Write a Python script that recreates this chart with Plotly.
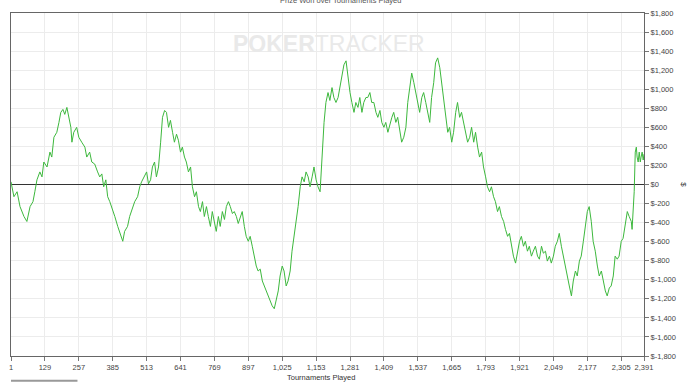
import plotly.graph_objects as go

tournaments = [1, 12, 24, 35, 50, 61, 73, 84, 91, 99, 110, 118, 125, 137, 148, 155, 163, 174, 182, 189,
    197, 204, 212, 219, 227, 231, 238, 249, 257, 268, 280, 287, 298, 306, 317, 328, 336, 344, 351, 359,
    366, 374, 381, 393, 404, 415, 423, 430, 441, 449, 456, 468, 479, 487, 494, 502, 513, 520, 528, 535,
    543, 550, 558, 566, 573, 581, 588, 596, 603, 611, 618, 626, 633, 641, 648, 656, 663, 671, 679, 686,
    694, 701, 709, 716, 724, 731, 739, 746, 754, 761, 769, 776, 784, 791, 799, 807, 814, 822, 829, 837,
    844, 852, 859, 867, 874, 882, 889, 897, 904, 912, 919, 927, 934, 942, 950, 957, 965, 972, 980, 987,
    995, 1002, 1010, 1017, 1025, 1032, 1040, 1047, 1055, 1062, 1070, 1077, 1085, 1093, 1100, 1108, 1115, 1123, 1130, 1138,
    1145, 1153, 1160, 1168, 1175, 1183, 1190, 1198, 1205, 1213, 1220, 1228, 1236, 1243, 1251, 1258, 1266, 1273, 1281, 1288,
    1296, 1303, 1311, 1318, 1326, 1333, 1341, 1348, 1356, 1363, 1371, 1379, 1386, 1394, 1401, 1409, 1416, 1424, 1431, 1439,
    1446, 1454, 1461, 1469, 1476, 1484, 1492, 1499, 1507, 1514, 1522, 1529, 1537, 1544, 1552, 1559, 1567, 1574, 1582, 1589,
    1597, 1604, 1612, 1620, 1627, 1635, 1642, 1650, 1657, 1665, 1672, 1680, 1687, 1695, 1702, 1710, 1717, 1725, 1733, 1740,
    1748, 1755, 1763, 1770, 1778, 1785, 1793, 1800, 1808, 1815, 1823, 1830, 1838, 1845, 1853, 1861, 1868, 1876, 1883, 1891,
    1898, 1906, 1913, 1921, 1928, 1936, 1943, 1951, 1958, 1966, 1973, 1981, 1989, 1996, 2004, 2011, 2019, 2026, 2034, 2041,
    2049, 2056, 2064, 2071, 2079, 2086, 2094, 2102, 2109, 2117, 2124, 2132, 2139, 2147, 2154, 2162, 2169, 2177, 2184, 2192,
    2199, 2207, 2215, 2222, 2230, 2237, 2245, 2252, 2260, 2267, 2275, 2282, 2290, 2297, 2305, 2312, 2320, 2328, 2335, 2343,
    2346, 2350, 2354, 2358, 2362, 2365, 2369, 2373, 2377, 2380, 2384, 2388, 2391]

profit = [28, -128, -76, -232, -336, -388, -232, -180, -76, 49, 132, 80, 236, 184, 340, 288, 496, 548, 652, 757,
    788, 736, 809, 705, 600, 444, 548, 600, 496, 444, 392, 288, 340, 236, 215, 132, 80, 111, -24, 49,
    -128, -180, -232, -336, -440, -544, -596, -492, -440, -336, -284, -180, -128, -24, 28, 80, 132, 7, 49, 184,
    236, 80, 184, 444, 705, 777, 757, 600, 673, 548, 444, 528, 465, 340, 392, 288, 236, 132, 184, -24,
    -128, -76, -232, -284, -180, -336, -232, -336, -440, -284, -388, -492, -336, -440, -284, -367, -232, -180, -232, -305,
    -284, -336, -409, -336, -284, -440, -544, -596, -544, -648, -752, -856, -908, -888, -1013, -1065, -1117, -1169, -1221, -1273,
    -1304, -1200, -1117, -960, -856, -908, -1065, -1013, -908, -700, -544, -388, -232, -24, 80, 28, 132, 80, -24, 80,
    184, 49, -24, -76, 340, 652, 861, 965, 882, 1017, 913, 861, 913, 1017, 1121, 1256, 1298, 1121, 965, 861,
    757, 861, 809, 913, 757, 861, 913, 913, 965, 861, 861, 757, 705, 777, 652, 600, 652, 548, 632, 705,
    757, 652, 705, 548, 444, 496, 600, 861, 1017, 1169, 1069, 965, 861, 757, 913, 965, 861, 757, 652, 913,
    1069, 1277, 1329, 1225, 1069, 913, 705, 548, 600, 444, 548, 757, 861, 705, 757, 652, 548, 444, 496, 600,
    444, 548, 392, 288, 340, 184, 80, -24, -76, -24, -128, -180, -284, -232, -336, -388, -471, -544, -513, -648,
    -752, -825, -700, -596, -544, -648, -596, -700, -648, -752, -700, -648, -752, -784, -648, -721, -700, -804, -752, -825,
    -752, -648, -596, -513, -648, -752, -856, -960, -1065, -1169, -1013, -908, -960, -804, -752, -596, -440, -284, -232, -388,
    -596, -700, -856, -960, -908, -1013, -1117, -1169, -1086, -1065, -960, -752, -784, -752, -596, -565, -409, -284, -336, -388,
    -471, -284, -76, 340, 392, 288, 236, 340, 236, 288, 340, 257, 319]

x_tick_vals = [1, 129, 257, 385, 513, 641, 769, 897, 1025, 1153, 1281, 1409, 1537, 1665, 1793,
               1921, 2049, 2177, 2305, 2391]
y_tick_vals = [1800, 1600, 1400, 1200, 1000, 800, 600, 400, 200, 0, -200, -400, -600, -800,
               -1000, -1200, -1400, -1600, -1800]
y_tick_text = ["$1,800", "$1,600", "$1,400", "$1,200", "$1,000", "$800", "$600", "$400", "$200", "$0",
               "$-200", "$-400", "$-600", "$-800", "$-1,000", "$-1,200", "$-1,400", "$-1,600", "$-1,800"]

FONT = "Liberation Sans, Arial, sans-serif"

fig = go.Figure()
fig.add_trace(go.Scatter(x=tournaments, y=profit, mode="lines",
                         line=dict(color="#3db83d", width=1), showlegend=False,
                         hoverinfo="skip"))

fig.update_layout(
    width=700, height=383,
    margin=dict(l=9, r=56, t=9, b=27),
    paper_bgcolor="white", plot_bgcolor="white",
    font=dict(family=FONT, size=7.5, color="#444"),
    showlegend=False,
    xaxis=dict(range=[1, 2391], tickvals=x_tick_vals, tickformat=",d",
               showgrid=True, gridcolor="#ececec", gridwidth=1,
               showline=True, linecolor="#666", linewidth=1, mirror=True,
               ticks="outside", ticklen=4, tickcolor="#777",
               zeroline=False, tickfont=dict(size=7.5, color="#444")),
    yaxis=dict(range=[-1800, 1800], tickvals=y_tick_vals, ticktext=y_tick_text, side="right",
               showgrid=True, gridcolor="#ececec", gridwidth=1,
               showline=True, linecolor="#666", linewidth=1, mirror=True,
               ticks="outside", ticklen=4, tickcolor="#777",
               zeroline=True, zerolinecolor="#333", zerolinewidth=1,
               tickfont=dict(size=7.5, color="#444")),
    annotations=[
        dict(text="Tournaments Played", xref="paper", yref="paper", x=0.49, y=-0.045,
             xanchor="center", yanchor="top", showarrow=False, font=dict(size=7.5, color="#333")),
        dict(text="$", xref="paper", yref="paper", x=1.062, y=0.5, textangle=90,
             xanchor="center", yanchor="middle", showarrow=False, font=dict(size=8, color="#333")),
        dict(text="Prize Won over Tournaments Played", xref="paper", yref="paper", x=0.52, y=1.036,
             xanchor="center", yanchor="middle", showarrow=False, font=dict(size=7.5, color="#555")),
        dict(text="<b>POKER</b>TRACKER", xref="paper", yref="paper", x=0.502, y=0.911,
             xanchor="center", yanchor="middle", showarrow=False,
             font=dict(size=23, color="#e9e9e9", family=FONT)),
    ],
    shapes=[dict(type="line", xref="paper", yref="paper", x0=0, x1=0.105, y0=-0.072, y1=-0.072,
                 line=dict(color="#999", width=2))],
)

fig.write_html("out.html", config={"displayModeBar": False},
               post_script="document.body.style.margin='0';")
